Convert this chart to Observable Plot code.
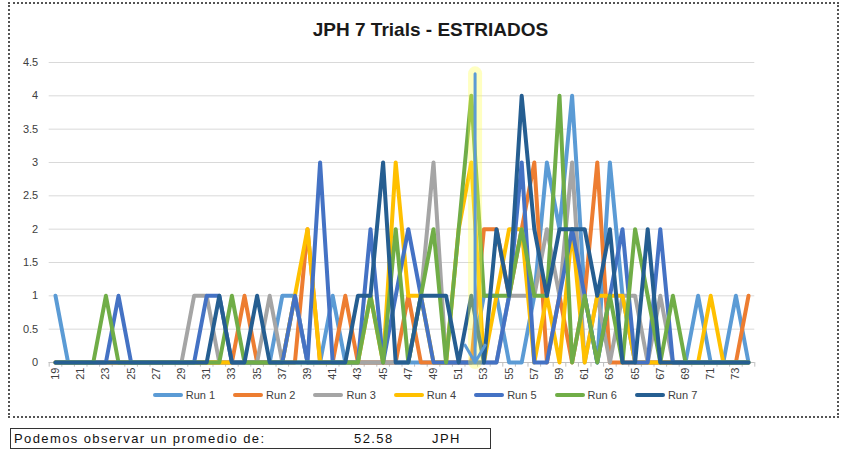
<!DOCTYPE html>
<html><head><meta charset="utf-8">
<script src="https://cdn.jsdelivr.net/npm/d3@7"></script>
<script src="https://cdn.jsdelivr.net/npm/@observablehq/plot@0.6"></script>
<style>
body{margin:0;background:#fff;width:843px;height:450px;overflow:hidden;font-family:"Liberation Sans",Arial,sans-serif}
#wrap{position:relative;width:843px;height:450px}
#frame{position:absolute;left:8px;top:2px;width:831px;height:416px;border:2px dotted #555;box-sizing:border-box}
#title{position:absolute;left:9px;width:843px;top:18px;text-align:center;font-weight:bold;font-size:19px;line-height:24px;color:#1a1a1a}
#chart{position:absolute;left:0;top:0}
#legend{position:absolute;left:0;width:868px;top:389px;display:flex;justify-content:center;font-size:11px;color:#404040}
.item{display:flex;align-items:center;margin-right:18px}
.sw{display:inline-block;width:30px;height:4px;border-radius:2px;margin-right:3px}
#note{position:absolute;left:10px;top:428px;width:481px;height:21px;border:1px solid #333;box-sizing:border-box;font-family:"Liberation Sans Narrow","Liberation Sans",Arial,sans-serif;font-size:13px;letter-spacing:1.4px;color:#111}
#note span{position:absolute;top:2px}
</style></head>
<body><div id="wrap">
<div id="frame"></div>
<div id="title">JPH 7 Trials - ESTRIADOS</div>
<div id="chart"></div>
<div id="legend"></div>
<div id="note"><span style="left:3px">Podemos observar un promedio de:</span><span style="left:343px">52.58</span><span style="left:421px">JPH</span></div>
</div>
<script>
const categories = [19,20,21,22,23,24,25,26,27,28,29,30,31,32,33,34,35,36,37,38,39,40,41,42,43,44,45,46,47,48,49,50,51,52,53,54,55,56,57,58,59,60,61,62,63,64,65,66,67,68,69,70,71,72,73,74];
const xTickLabels = [19,21,23,25,27,29,31,33,35,37,39,41,43,45,47,49,51,53,55,57,59,61,63,65,67,69,71,73];
const yTicks = [0,0.5,1,1.5,2,2.5,3,3.5,4,4.5];
const runNames = ["Run 1","Run 2","Run 3","Run 4","Run 5","Run 6","Run 7"];
const runColors = ["#5B9BD5","#ED7D31","#A5A5A5","#FFC000","#4472C4","#70AD47","#255E91"];

const run1 = [1,0,0,0,0,0,0,0,0,0, 0,0,0,0,0,0,0,0,1,1, 0,0,1,0,0,0,0,0,0,0, 0,0,0,0,1,1,0,0,1,3, 2,4,1,0,3,1,0,0,0,0, 0,1,0,0,1,0];
const run2 = [0,0,0,0,0,0,0,0,0,0, 0,0,0,0,0,1,0,0,0,0, 2,0,0,1,0,0,0,0,1,0, 0,0,0,0,2,2,1,2,3,0, 1,0,1,3,0,0,0,0,0,0, 0,0,0,0,0,1];
const run3 = [0,0,0,0,0,0,0,0,0,0, 0,1,1,0,0,0,0,1,0,1, 0,0,0,0,0,0,0,0,0,1, 3,0,0,0,0,0,1,1,1,2, 1,3,0,1,0,1,1,0,1,0, 0,0,0,0,0,0];
const run4 = [0,0,0,0,0,0,0,0,0,0, 0,0,0,0,0,0,0,0,0,1, 2,0,0,0,0,1,0,3,1,1, 0,0,2,3,0,1,2,2,0,1, 0,2,0,1,1,1,0,0,0,0, 0,0,1,0,0,0];
const run5 = [0,0,0,0,0,1,0,0,0,0, 0,0,1,1,0,0,0,0,0,1, 0,3,0,0,0,2,0,1,2,1, 0,0,0,0,0,0,1,3,0,0, 1,2,1,0,1,2,0,0,2,0, 0,0,0,0,0,0];
const run6 = [0,0,0,0,1,0,0,0,0,0, 0,0,0,0,1,0,0,0,0,0, 0,0,0,0,0,1,0,2,0,1, 2,0,2,4,1,1,1,2,1,1, 4,0,1,0,1,0,2,1,0,1, 0,0,0,0,0,0];
const run7 = [0,0,0,0,0,0,0,0,0,0, 0,0,0,1,0,0,1,0,0,0, 0,0,0,0,1,1,3,0,0,1, 1,1,0,1,0,2,1,4,2,1, 2,2,2,1,2,0,0,2,0,0, 0,0,0,0,0,0];
const annotation = [{cat: 52.3, top: 4.33}];

const series = [run1,run2,run3,run4,run5,run6,run7];
const rows = [];
series.forEach((vals, i) => vals.forEach((v, j) => rows.push({run: runNames[i], cat: categories[j], value: v})));
const boundaries = categories.map(c => c - 0.5).concat([categories[categories.length-1] + 0.5]);

const chart = Plot.plot({
  width: 843, height: 400,
  marginTop: 62, marginBottom: 38, marginLeft: 48.7, marginRight: 88.7,
  x: {type: "linear", domain: [18.5, 74.5], axis: null, label: null},
  y: {domain: [0, 4.5], axis: null, label: null},
  color: {domain: runNames, range: runColors},
  style: {background: "transparent", fontFamily: "'Liberation Sans', Arial, sans-serif", fontSize: "11px", overflow: "visible"},
  marks: [
    Plot.gridY(yTicks, {stroke: "#d9d9d9", strokeOpacity: 1}),
    Plot.axisY(yTicks, {tickSize: 0, tickPadding: 11, tickFormat: d => String(d), fill: "#404040", label: null}),
    Plot.ruleY([0], {stroke: "#bfbfbf"}),
    Plot.ruleX(boundaries, {x: d => d, y1: 0, y2: -0.07, stroke: "#bfbfbf"}),
    Plot.axisX(xTickLabels, {tickSize: 0, tickPadding: 5, tickRotate: -90, tickFormat: d => String(d), fill: "#404040", label: null}),
    Plot.line(rows, {x: "cat", y: "value", z: "run", stroke: "run", strokeWidth: 4, strokeLinejoin: "round", strokeLinecap: "round"}),
    Plot.ruleX(annotation, {x: "cat", y1: 0, y2: "top", stroke: "#ffff4d", strokeWidth: 14, strokeOpacity: 0.35, strokeLinecap: "round"}),
    Plot.arrow(annotation, {x1: "cat", y1: "top", x2: "cat", y2: 0, stroke: "#5B9BD5", strokeWidth: 3, headLength: 10})
  ]
});
document.getElementById("chart").appendChild(chart);

const legend = document.getElementById("legend");
runNames.forEach((n, i) => {
  const it = document.createElement("div"); it.className = "item";
  const sw = document.createElement("span"); sw.className = "sw"; sw.style.background = runColors[i];
  it.appendChild(sw); it.appendChild(document.createTextNode(n));
  legend.appendChild(it);
});
</script>
</body></html>
